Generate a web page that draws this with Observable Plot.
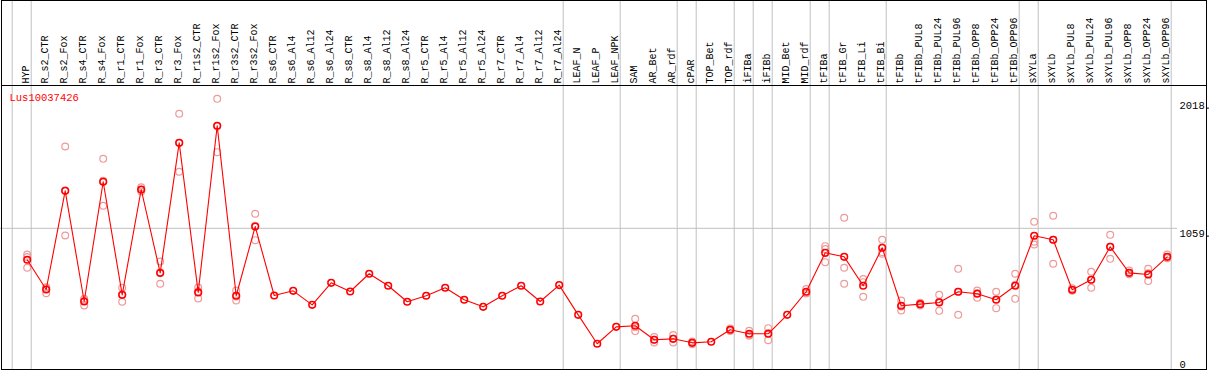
<!DOCTYPE html>
<html><head><meta charset="utf-8">
<script src="https://cdn.jsdelivr.net/npm/d3@7"></script>
<script src="https://cdn.jsdelivr.net/npm/@observablehq/plot@0.6"></script>
<style>body{margin:0;background:#fff}</style>
</head><body><div id="chart"></div>
<script>
const geneName = "Lus10037426";
const samples = ["HYP","R_s2_CTR","R_s2_Fox","R_s4_CTR","R_s4_Fox","R_r1_CTR","R_r1_Fox","R_r3_CTR","R_r3_Fox","R_r1s2_CTR","R_r1s2_Fox","R_r3s2_CTR","R_r3s2_Fox","R_s6_CTR","R_s6_Al4","R_s6_Al12","R_s6_Al24","R_s8_CTR","R_s8_Al4","R_s8_Al12","R_s8_Al24","R_r5_CTR","R_r5_Al4","R_r5_Al12","R_r5_Al24","R_r7_CTR","R_r7_Al4","R_r7_Al12","R_r7_Al24","LEAF_N","LEAF_P","LEAF_NPK","SAM","AR_Bet","AR_rdf","cPAR","TOP_Bet","TOP_rdf","iFIBa","iFIBb","MID_Bet","MID_rdf","tFIBa","tFIB_Gr","tFIB_Li","tFIB_Bi","tFIBb","tFIBb_PUL8","tFIBb_PUL24","tFIBb_PUL96","tFIBb_OPP8","tFIBb_OPP24","tFIBb_OPP96","sXYLa","sXYLb","sXYLb_PUL8","sXYLb_PUL24","sXYLb_PUL96","sXYLb_OPP8","sXYLb_OPP24","sXYLb_OPP96"];
const meanValues = [823,600,1340,510,1408,560,1350,725,1700,578,1828,553,1072,555,590,485,650,585,718,628,508,553,613,523,470,553,628,510,633,410,193,320,328,223,230,200,208,298,268,268,410,583,875,845,628,913,478,490,503,583,568,523,628,1003,973,598,673,920,725,713,845];
const rep1 = [862,617,1672,530,1580,613,1367,810,1918,615,2030,593,1168,null,null,null,null,null,null,null,null,null,null,null,null,null,null,null,null,null,null,null,380,243,258,210,null,308,290,310,null,603,925,1138,678,973,518,500,560,755,593,583,718,1108,1153,610,733,1010,743,755,863];
const rep2 = [763,572,1005,480,1228,508,1335,643,1483,533,1630,518,970,null,null,null,null,null,null,null,null,null,null,null,null,null,null,null,null,null,null,null,288,203,203,190,null,288,253,220,null,575,903,763,655,880,443,480,440,410,538,460,530,958,793,590,613,830,718,663,835];
const rep3 = [844,611,1343,520,1416,559,1348,722,1699,586,1824,548,1078,null,null,null,null,null,null,null,null,null,null,null,null,null,null,null,null,null,null,null,316,223,230,200,null,298,260,274,null,570,805,643,545,868,473,490,509,584,573,526,636,938,973,594,673,920,714,721,837];
const groupEnds = [-1,0,28,31,34,35,37,38,39,41,42,45,52,53,60];
const tickValues = [0,1059,2018];
const tickLabels = ["0","1059.","2018."];

const meanData = samples.map((s,i)=>({i, s, v: meanValues[i]}));
const repData = [];
[rep1,rep2,rep3].forEach(r => r.forEach((v,i)=>{ if (v != null) repData.push({i, v}); }));
const ticks = tickValues.map((v,i)=>({v, label: tickLabels[i]}));

const font = "'Liberation Mono', 'DejaVu Sans Mono', monospace";
const chart = Plot.plot({
  width: 1209, height: 370,
  marginTop: 85, marginBottom: 1, marginLeft: 0, marginRight: 32,
  x: {type: "linear", domain: [-1.405, 60.542], axis: null},
  y: {domain: [0, 2130], axis: null},
  style: {fontFamily: font, fontSize: "10px", background: "white", overflow: "visible"},
  marks: [
    Plot.ruleY([tickValues[1]], {stroke: "#c0c0c0"}),
    Plot.ruleX(groupEnds, {x: d => d, dx: 4, stroke: "#c0c0c0", insetTop: -85}),
    Plot.text(samples, {x: (d,i) => i, text: d => d, frameAnchor: "top", rotate: -90, textAnchor: "start", lineAnchor: "middle", dy: -2, dx: -1, fill: "black"}),
    Plot.text([geneName], {text: d => d, frameAnchor: "top-left", textAnchor: "start", lineAnchor: "middle", dx: 9, dy: 12, fill: "red", fontSize: 10.5}),
    Plot.text(ticks, {filter: d => d.v > 0, y: "v", text: "label", frameAnchor: "right", textAnchor: "start", lineAnchor: "top", dx: 2, dy: 1, fill: "black", fontSize: 10.5}),
    Plot.text(ticks, {filter: d => d.v === 0, y: "v", text: "label", frameAnchor: "right", textAnchor: "start", lineAnchor: "bottom", dx: 2, dy: -2, fill: "black", fontSize: 10.5}),
    Plot.dot(repData, {x: "i", y: "v", r: 3.4, stroke: "#ee9a9a", strokeWidth: 1.2, fill: "none"}),
    Plot.line(meanData, {x: "i", y: "v", stroke: "red", strokeWidth: 1.1}),
    Plot.dot(meanData, {x: "i", y: "v", r: 3.3, stroke: "red", strokeWidth: 1.6, fill: "none"})
  ]
});
const svg = d3.select(chart);
svg.append("rect").attr("x", 1.5).attr("y", 0.5).attr("width", 1205).attr("height", 369)
  .attr("fill", "none").attr("stroke", "black");
svg.append("line").attr("x1", 1).attr("x2", 1207).attr("y1", 85.5).attr("y2", 85.5).attr("stroke", "black");
document.getElementById("chart").appendChild(chart);
</script>
</body></html>
